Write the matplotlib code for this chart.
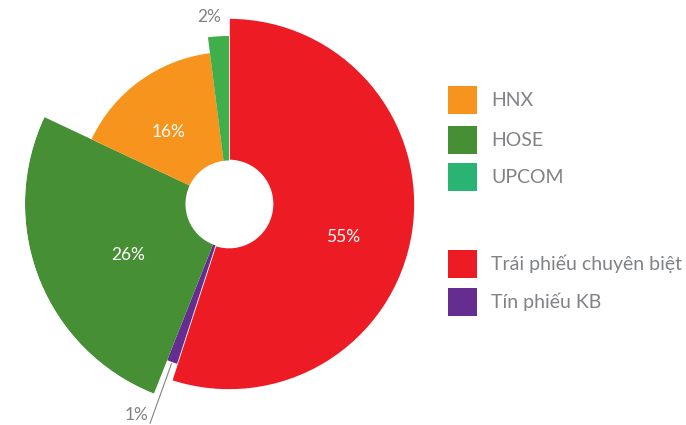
import matplotlib.pyplot as plt
from matplotlib.patches import Rectangle
import numpy as np

plt.rcParams['font.family'] = ['Lato', 'DejaVu Sans']

# data, clockwise from 12 o'clock
names = ['Trái phiếu chuyên biệt', 'Tín phiếu KB', 'HOSE', 'HNX', 'UPCOM']
shares = [55, 1, 26, 16, 2]
radii = [186, 168, 204, 152, 168]  # outer radius of each slice (px)
colors = ['#ED1C24', '#662D91', '#478F35', '#F7941D', '#40AE4A']
pct_labels = ['55%', '1%', '26%', '16%', '2%']

legend_names = ['HNX', 'HOSE', 'UPCOM', 'Trái phiếu chuyên biệt', 'Tín phiếu KB']
legend_colors = ['#F7941D', '#478F35', '#29B473', '#ED1C24', '#662D91']
legend_y = [100, 140, 177, 264, 302]

hole = 43.5
grey = '#808285'

W, H = 686, 425
fig = plt.figure(figsize=(W / 100, H / 100), dpi=100)
ax = fig.add_axes([25 / W, 17 / H, 408 / W, 408 / H], projection='polar')
ax.set_theta_offset(np.pi / 2)
ax.set_theta_direction(-1)

fr = np.array(shares) / sum(shares)
starts = np.concatenate([[0], np.cumsum(fr)[:-1]]) * 2 * np.pi
widths = fr * 2 * np.pi
heights = np.array(radii) - hole

bars = ax.bar(starts, heights, width=widths, bottom=hole, align='edge',
              color=colors, linewidth=0)
bars[0].set_edgecolor('white')
bars[0].set_linewidth(1.2)

mids = starts + widths / 2
# inside labels: small angle nudge (deg) and radius (px)
inside = {0: (7, 119), 2: (-5.4, 113), 3: (-4.3, 94)}
for i, (dth, r) in inside.items():
    ax.text(mids[i] + np.radians(dth), r, pct_labels[i], color='white',
            fontsize=12.5, ha='center', va='center')

# outside labels
ax.text(mids[4] - 0.045, radii[4] + 20, pct_labels[4], color=grey,
        fontsize=12.5, ha='center', va='center')
ax.plot([mids[1], mids[1]], [radii[1] + 2, 233], color=grey, lw=0.8,
        clip_on=False)
ax.text(mids[1] + 0.02, 226, pct_labels[1], color=grey, fontsize=12.5,
        ha='right', va='center')

ax.set_ylim(0, 204)
ax.axis('off')

# legend
lax = fig.add_axes([0, 0, 1, 1])
lax.set_xlim(0, W)
lax.set_ylim(H, 0)
lax.axis('off')
for name, c, y in zip(legend_names, legend_colors, legend_y):
    lax.add_patch(Rectangle((448, y - 14), 29, 28, color=c, lw=0))
    lax.text(491, y, name, color=grey, fontsize=14, ha='left', va='center')

fig.savefig('out.png', dpi=100)
